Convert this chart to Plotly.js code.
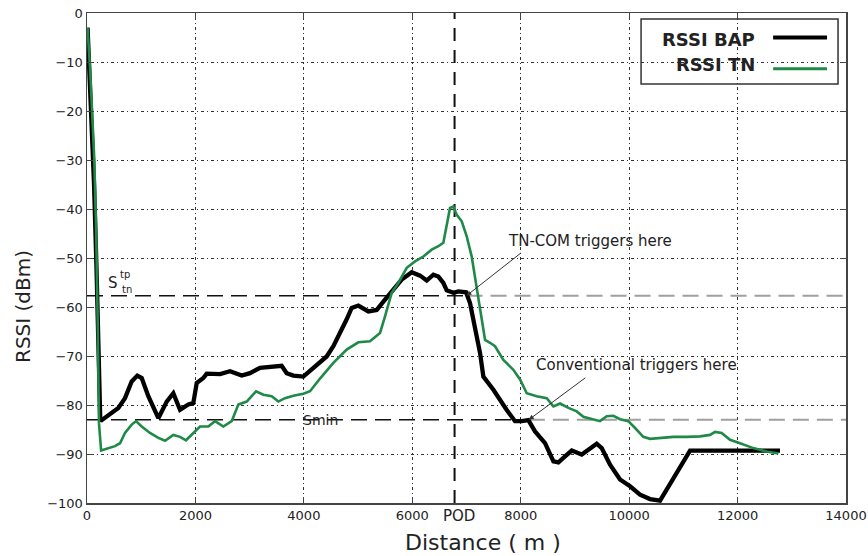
<!DOCTYPE html>
<html>
<head>
<meta charset="utf-8">
<script src="https://cdn.plot.ly/plotly-3.0.1.min.js"></script>
<style>
  html, body { margin: 0; padding: 0; background: #fff; }
  #chart { width: 868px; height: 556px; }
</style>
</head>
<body>
<div id="chart"></div>
<script>
// RSSI along the route, BAP link (black) and TN link (green)
const bapDistance = [10, 60, 130, 175, 215, 245, 271, 363, 578, 701, 824, 928, 1009, 1131, 1316, 1470, 1592, 1716, 1869, 1961, 2024, 2146, 2208, 2454, 2638, 2854, 3007, 3191, 3499, 3591, 3683, 3806, 3990, 4175, 4298, 4421, 4544, 4729, 4790, 4882, 5005, 5190, 5344, 5497, 5651, 5805, 5990, 6143, 6266, 6389, 6481, 6573, 6635, 6758, 6850, 6991, 7065, 7157, 7250, 7311, 7496, 7742, 7895, 8018, 8141, 8264, 8449, 8603, 8695, 8818, 8941, 9125, 9248, 9402, 9494, 9648, 9832, 10017, 10201, 10385, 10570, 10693, 10877, 11123, 12783];
const bapRssi = [-3, -15, -35, -52, -72, -83, -83.1, -82.3, -80.6, -78.6, -75.2, -74, -74.5, -78.2, -82.7, -79.3, -77.6, -81, -79.9, -79.6, -75.5, -74.5, -73.6, -73.7, -73.1, -74, -73.5, -72.4, -72.1, -72, -73.5, -74, -74.2, -72.4, -71.1, -70.1, -68, -64, -62.5, -60.2, -59.7, -60.9, -60.6, -58.5, -56.5, -54.4, -52.9, -53.6, -54.6, -53.4, -53.8, -55.1, -56.6, -57.1, -56.8, -57, -59.2, -64, -69.4, -74.2, -76.9, -81, -83.3, -83.3, -83.1, -85.4, -87.8, -91.5, -91.7, -90.5, -89.3, -90.1, -89.1, -87.9, -88.8, -92.2, -95.2, -96.6, -98.3, -99.2, -99.5, -97.3, -93.9, -89.3, -89.3];

const tnDistance = [10, 60, 135, 170, 200, 221, 260, 424, 516, 609, 701, 824, 904, 1009, 1162, 1316, 1439, 1592, 1716, 1826, 1961, 2084, 2238, 2361, 2515, 2669, 2792, 2946, 3118, 3253, 3407, 3530, 3652, 3806, 3990, 4114, 4298, 4544, 4790, 5005, 5220, 5405, 5497, 5620, 5743, 5897, 6050, 6204, 6358, 6481, 6573, 6635, 6696, 6758, 6820, 6912, 7004, 7096, 7188, 7250, 7342, 7434, 7526, 7680, 7864, 7988, 8111, 8295, 8480, 8603, 8726, 8880, 9033, 9156, 9341, 9463, 9586, 9709, 9832, 9985, 10109, 10262, 10385, 10570, 10816, 11062, 11308, 11492, 11584, 11707, 11861, 12045, 12291, 12537, 12752];
const tnRssi = [-3, -12, -30, -45, -65, -83.7, -89.3, -88.8, -88.4, -87.8, -85.7, -84, -83.3, -84.4, -85.7, -86.7, -87.3, -86.1, -86.5, -87.2, -85.7, -84.4, -84.4, -83.3, -84.4, -83.3, -79.9, -79.3, -77.2, -77.9, -78.2, -79.3, -78.6, -78.1, -77.7, -77.2, -74.6, -71.4, -68.7, -67.2, -67, -65.3, -61.9, -57.1, -55.1, -52, -50.7, -49.7, -48.3, -47.6, -46.9, -43.5, -39.8, -39.5, -41.2, -42.5, -45.6, -49.7, -55.8, -60.6, -66.7, -67.3, -68, -70.8, -72.8, -74.8, -77.6, -78.2, -78.6, -80.3, -79.7, -80.6, -81.3, -82.4, -82.9, -83.3, -82.3, -82.2, -82.9, -83.3, -84.7, -86.5, -86.9, -86.7, -86.5, -86.5, -86.4, -86.1, -85.5, -85.7, -87.1, -87.8, -88.8, -89.5, -89.9];

// Thresholds and event positions
const sTnTp = -57.7;          // TN-COM threshold
const sMin = -83;             // conventional threshold
const podDistance = 6780;     // point of departure
const tnComTrigger = 7000;    // where TN-COM triggers
const convTrigger = 8150;     // where the conventional scheme triggers

const xTicks = [0, 2000, 4000, 6000, 8000, 10000, 12000, 14000];
const yTicks = [-100, -90, -80, -70, -60, -50, -40, -30, -20, -10, 0];

const FONT = 'DejaVu Sans, Arial, sans-serif';
const GREEN = '#1f8a47';

const traces = [
  { x: bapDistance, y: bapRssi, type: 'scatter', mode: 'lines', name: 'RSSI BAP',
    line: { color: '#000', width: 4.3 }, showlegend: false, hoverinfo: 'skip' },
  { x: tnDistance, y: tnRssi, type: 'scatter', mode: 'lines', name: 'RSSI TN',
    line: { color: GREEN, width: 2.6 }, showlegend: false, hoverinfo: 'skip' }
];

const axisCommon = {
  showline: true, linecolor: '#444', linewidth: 1.5, mirror: 'ticks',
  ticks: 'inside', ticklen: 6, tickcolor: '#444', tickwidth: 1,
  showgrid: true, gridcolor: '#333', gridwidth: 1, griddash: '1px,3px,3px,3px',
  zeroline: false, tickfont: { family: FONT, size: 13, color: '#222' }
};

const darkDash = { color: '#111', width: 1.6, dash: '16px,8px' };
const greyDash = { color: '#a0a0a0', width: 2, dash: '16px,8px' };

const shapes = [
  // POD marker
  { type: 'line', xref: 'x', yref: 'paper', x0: podDistance, x1: podDistance, y0: 0, y1: 1,
    line: { color: '#111', width: 2, dash: '13px,9px' }, layer: 'between' },
  // S_tn^tp threshold
  { type: 'line', xref: 'x', yref: 'y', x0: 0, x1: tnComTrigger, y0: sTnTp, y1: sTnTp, line: darkDash, layer: 'between' },
  { type: 'line', xref: 'x', yref: 'y', x0: tnComTrigger, x1: 14000, y0: sTnTp, y1: sTnTp, line: greyDash, layer: 'between' },
  // Smin threshold
  { type: 'line', xref: 'x', yref: 'y', x0: 0, x1: convTrigger, y0: sMin, y1: sMin, line: darkDash, layer: 'between' },
  { type: 'line', xref: 'x', yref: 'y', x0: convTrigger, x1: 14000, y0: sMin, y1: sMin, line: greyDash, layer: 'between' },
  // legend frame and samples
  { type: 'rect', xref: 'paper', yref: 'paper', x0: 0.730, x1: 0.9895, y0: 0.855, y1: 0.988,
    line: { color: '#333', width: 1.5 }, fillcolor: 'rgba(0,0,0,0)' },
  { type: 'line', xref: 'paper', yref: 'paper', x0: 0.904, x1: 0.975, y0: 0.950, y1: 0.950,
    line: { color: '#000', width: 4 } },
  { type: 'line', xref: 'paper', yref: 'paper', x0: 0.904, x1: 0.975, y0: 0.886, y1: 0.886,
    line: { color: GREEN, width: 3 } }
];

const txt = (s, size, extra) => Object.assign({ text: s, showarrow: false,
  font: { family: FONT, size: size, color: '#222' } }, extra);

const annotations = [
  // legend labels
  txt('<b>RSSI BAP</b>', 18, { xref: 'paper', yref: 'paper', x: 0.8827, y: 0.945, xanchor: 'right', yanchor: 'middle' }),
  txt('<b>RSSI TN</b>', 18, { xref: 'paper', yref: 'paper', x: 0.8827, y: 0.894, xanchor: 'right', yanchor: 'middle' }),
  // axis titles
  txt('RSSI (dBm)', 20, { xref: 'paper', yref: 'paper', x: -0.0843, y: 0.40, textangle: -90, xanchor: 'center', yanchor: 'middle' }),
  txt('Distance ( m )', 22, { xref: 'paper', yref: 'paper', x: 0.522, y: -0.0816, xanchor: 'center', yanchor: 'middle' }),
  // POD tick label
  txt('POD', 15, { xref: 'x', yref: 'paper', x: podDistance, y: 0, xanchor: 'center', yanchor: 'top', xshift: 4, yshift: -2 }),
  // threshold labels
  txt('S', 15, { xref: 'x', yref: 'y', x: 480, y: -55.0, xanchor: 'center', yanchor: 'middle' }),
  txt('tp', 10, { xref: 'x', yref: 'y', x: 700, y: -53.4, xanchor: 'center', yanchor: 'middle' }),
  txt('tn', 10, { xref: 'x', yref: 'y', x: 740, y: -56.4, xanchor: 'center', yanchor: 'middle' }),
  txt('Smin', 14, { xref: 'x', yref: 'y', x: 4300, y: sMin, xanchor: 'center', yanchor: 'middle' }),
  // event callouts
  txt('TN-COM triggers here', 15, { xref: 'x', yref: 'y', x: 9280, y: -46.5, xanchor: 'center', yanchor: 'middle' }),
  txt('Conventional triggers here', 15, { xref: 'x', yref: 'y', x: 10140, y: -71.8, xanchor: 'center', yanchor: 'middle' }),
  { xref: 'x', yref: 'y', x: tnComTrigger, y: sTnTp, text: '', showarrow: true, ax: 56, ay: -44,
    arrowhead: 2, arrowsize: 1, arrowwidth: 1, arrowcolor: '#333' },
  { xref: 'x', yref: 'y', x: convTrigger, y: sMin, text: '', showarrow: true, ax: 58, ay: -43,
    arrowhead: 2, arrowsize: 1, arrowwidth: 1, arrowcolor: '#333' }
];

const layout = {
  width: 868, height: 556,
  margin: { l: 87, r: 22, t: 13, b: 53 },
  paper_bgcolor: '#fff', plot_bgcolor: '#fff',
  showlegend: false,
  font: { family: FONT, color: '#222' },
  xaxis: Object.assign({}, axisCommon, { range: [0, 14000], tickvals: xTicks, ticktext: xTicks.map(String) }),
  yaxis: Object.assign({}, axisCommon, { range: [-100, 0], tickvals: yTicks }),
  shapes: shapes,
  annotations: annotations
};

Plotly.newPlot('chart', traces, layout, { staticPlot: true, displayModeBar: false });
</script>
</body>
</html>
